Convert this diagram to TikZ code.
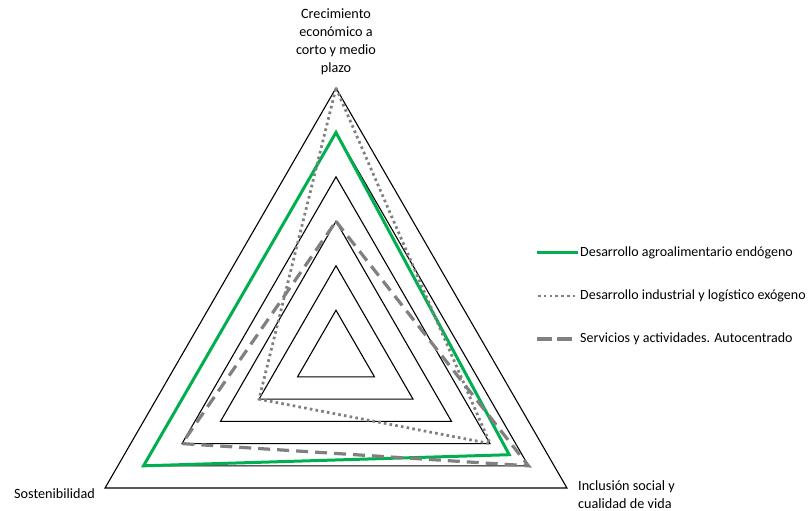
\documentclass[tikz,border=0pt]{standalone}
\usepackage{fontspec}
\setmainfont{Carlito}
\usetikzlibrary{positioning}
\definecolor{serieverde}{RGB}{0,176,80}
\definecolor{seriegris}{RGB}{128,128,128}

\begin{document}
\begin{tikzpicture}[x=1pt,y=1pt,line join=miter,
  anillo/.style={draw=black,line width=1.1pt},
  verde/.style={draw=serieverde,line width=3pt},
  punteado/.style={draw=seriegris,line width=2.8pt,line cap=butt,dash pattern=on 2.6pt off 3.2pt},
  rayado/.style={draw=seriegris,line width=3.2pt,dash pattern=on 12pt off 7pt},
  eje/.style={font=\fontsize{14.2}{18}\selectfont,align=center,inner sep=0pt},
  leyenda/.style={font=\fontsize{14}{16}\selectfont,anchor=west,inner sep=0pt}]
\useasboundingbox (0,0) rectangle (812,511);
\def\u{44.45}
\begin{scope}[shift={(336,156.3)}]
% anillos de la escala
\foreach \r in {1,...,6}
  \draw[anillo] (90:\r*\u) -- (210:\r*\u) -- (330:\r*\u) -- cycle;
% vertices de cada serie
\coordinate (v1) at (90:5*\u);
\coordinate (v2) at (330:4.5*\u);
\coordinate (v3) at (210:5*\u);
\coordinate (p1) at (90:6*\u);
\coordinate (p2) at (330:4*\u);
\coordinate (p3) at (210:2*\u);
\coordinate (r1) at (90:3*\u);
\coordinate (r2) at (330:5*\u);
\coordinate (r3) at (210:4*\u);
\draw[verde] (v1) -- (v2) -- (v3) -- cycle;
\draw[punteado] (p1) -- (p2) -- (p3) -- cycle;
\draw[rayado] (r1) -- (r2) -- (r3) -- cycle;
\end{scope}
% etiquetas de los ejes
\node[eje] (crec) at (336,469) {Crecimiento\\econ\'omico a\\corto y medio\\plazo};
\node[eje] (sost) at (54.5,17) {Sostenibilidad};
\node[eje,align=left,anchor=west] (incl) at (578,16.5) {Inclusi\'on social y\\cualidad de vida};
% leyenda
\node[leyenda] (l1) at (580,258) {Desarrollo agroalimentario end\'ogeno};
\node[leyenda] (l2) at (580,215) {Desarrollo industrial y log\'istico ex\'ogeno};
\node[leyenda] (l3) at (580,172) {Servicios y actividades. Autocentrado};
\draw[verde] (l1.west) ++(-43,0) coordinate (a1) -- ++(41,0);
\draw[punteado] (l2.west) ++(-42,0) coordinate (a2) -- ++(40,0);
\draw[rayado,dash pattern=on 15pt off 5pt] (l3.west) ++(-43,0) coordinate (a3) -- ++(36,0);
\end{tikzpicture}
\end{document}
